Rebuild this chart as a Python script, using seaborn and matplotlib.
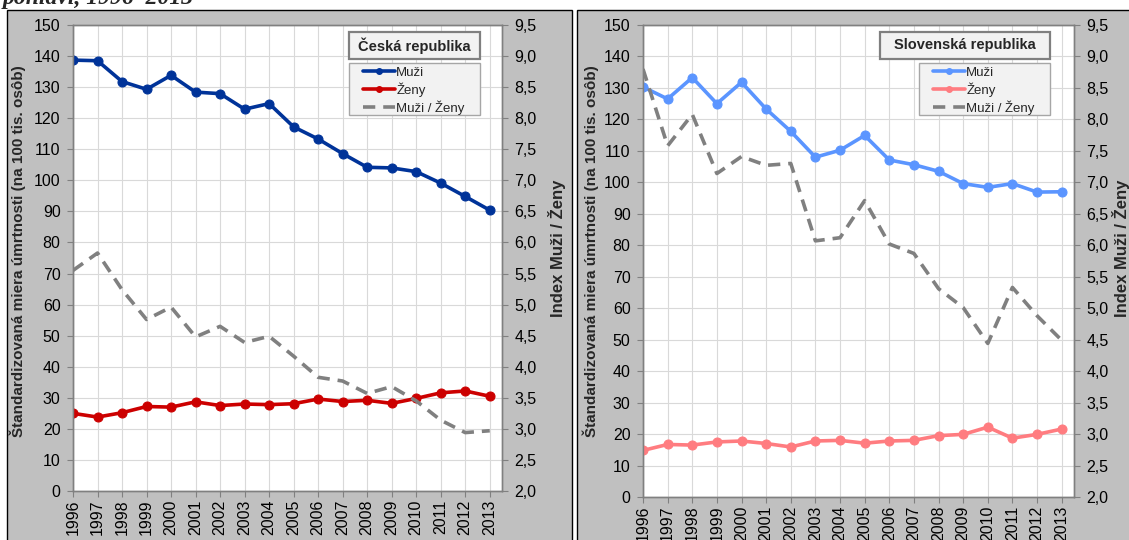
import matplotlib
matplotlib.use("Agg")
import matplotlib.pyplot as plt
import pandas as pd
import seaborn as sns
from matplotlib.lines import Line2D
from matplotlib.patches import Rectangle
from matplotlib.ticker import MultipleLocator, FuncFormatter

# --- data ---------------------------------------------------------------
years = list(range(1996, 2014))

cz_muzi = [138.7, 138.5, 131.8, 129.3, 133.8, 128.4, 127.9, 122.9, 124.7,
           117.2, 113.3, 108.6, 104.2, 104.0, 102.8, 99.1, 94.8, 90.4]
cz_zeny = [25.0, 23.8, 25.2, 27.2, 27.0, 28.7, 27.5, 28.0, 27.8,
           28.1, 29.6, 28.8, 29.2, 28.2, 29.8, 31.6, 32.2, 30.5]
cz_index = [5.55, 5.83, 5.24, 4.76, 4.96, 4.48, 4.65, 4.39, 4.49,
            4.17, 3.83, 3.77, 3.57, 3.68, 3.45, 3.14, 2.94, 2.97]

sk_muzi = [130.3, 126.5, 133.3, 125.0, 131.8, 123.3, 116.2, 108.0, 110.2,
           114.9, 107.1, 105.6, 103.5, 99.6, 98.4, 99.6, 96.9, 97.0]
sk_zeny = [14.8, 16.7, 16.5, 17.5, 17.8, 17.0, 15.9, 17.8, 18.0,
           17.1, 17.8, 18.0, 19.5, 19.9, 22.2, 18.7, 19.9, 21.6]
sk_index = [8.80, 7.58, 8.08, 7.14, 7.41, 7.27, 7.30, 6.07, 6.12,
            6.71, 6.02, 5.87, 5.31, 5.01, 4.44, 5.33, 4.88, 4.49]

series_labels = ["Muži", "Ženy", "Muži / Ženy"]
y_label = "Štandardizovaná miera úmrtnosti (na 100 tis. osôb)"
y2_label = "Index Muži / Ženy"
page_title = "pohlaví, 1996–2013"

# --- style --------------------------------------------------------------
sns.set_theme(style="white")
plt.rcParams["font.family"] = ["Liberation Sans", "DejaVu Sans"]

W, H = 1129, 540
fig = plt.figure(figsize=(W / 100, H / 100), dpi=100)
fig.patch.set_facecolor("white")

PANEL_BG = "#c0c0c0"
AX_EDGE = "#808080"
GRID = "#d9d9d9"
LW = 2.6
DASH = [3.4, 2.2]
TICK_FS = 11.5


def fbox(x0, y0, x1, y1):
    """Pixel box (top-left origin) -> figure fraction rect."""
    return [x0 / W, 1 - y1 / H, (x1 - x0) / W, (y1 - y0) / H]


def panel(box, plot, muzi, zeny, index, c_m, c_z, title, tbox, lbox, ylab_x, idx_x):
    x0, y0, x1, y1 = box
    fig.add_artist(Rectangle((x0 / W, -0.05), (x1 - x0) / W, 1 - y0 / H + 0.05,
                             transform=fig.transFigure, facecolor=PANEL_BG,
                             edgecolor="black", lw=1.0, zorder=-1))

    ax = fig.add_axes(fbox(*plot))
    ax.set_facecolor("white")
    df = pd.DataFrame({"rok": years, "Muži": muzi, "Ženy": zeny})
    sns.lineplot(data=df, x="rok", y="Muži", ax=ax, color=c_m, lw=LW,
                 marker="o", ms=6.5, mec=c_m, mfc=c_m, zorder=3)
    sns.lineplot(data=df, x="rok", y="Ženy", ax=ax, color=c_z, lw=LW,
                 marker="o", ms=6.5, mec=c_z, mfc=c_z, zorder=3)
    ax.set_xlim(1996, 2013.5)
    ax.set_ylim(0, 150)
    ax.set_xticks(years)
    ax.set_xticklabels([str(y) for y in years], rotation=90)
    ax.yaxis.set_major_locator(MultipleLocator(10))
    ax.grid(True, color=GRID, lw=0.8)
    ax.set_axisbelow(True)
    ax.set_xlabel("")
    ax.set_ylabel("")
    for s in ax.spines.values():
        s.set_color(AX_EDGE)
        s.set_linewidth(1.0)
    ax.tick_params(axis="y", direction="out", length=4, width=0.8, color=AX_EDGE,
                   labelsize=TICK_FS, pad=5, labelcolor="black", left=True)
    ax.tick_params(axis="x", direction="out", length=4, width=0.8, color=AX_EDGE,
                   labelsize=TICK_FS, pad=2, labelcolor="black", bottom=True)

    ax2 = ax.twinx()
    sns.lineplot(x=years, y=index, ax=ax2, color="#808080", lw=LW,
                 linestyle="--", zorder=3)
    for ln in ax2.get_lines():
        ln.set_dashes(DASH)
    ax2.set_ylim(2.0, 9.5)
    ax2.yaxis.set_major_locator(MultipleLocator(0.5))
    ax2.yaxis.set_major_formatter(FuncFormatter(lambda v, p: f"{v:.1f}".replace(".", ",")))
    ax2.set_ylabel("")
    ax2.grid(False)
    for s in ax2.spines.values():
        s.set_color(AX_EDGE)
        s.set_linewidth(1.0)
    ax2.tick_params(axis="y", direction="out", length=4, width=0.8, color=AX_EDGE,
                    labelsize=TICK_FS, pad=5, labelcolor="black", right=True)

    # legend: frame drawn as a patch so the entries can sit with a left inset
    handles = [
        Line2D([0], [0], color=c_m, lw=LW, marker="o", ms=4),
        Line2D([0], [0], color=c_z, lw=LW, marker="o", ms=4),
        Line2D([0], [0], color="#808080", lw=LW, dashes=DASH),
    ]
    lx0, ly0, lx1, ly1 = lbox
    ax2.add_patch(Rectangle((lx0 / W, 1 - ly1 / H), (lx1 - lx0) / W, (ly1 - ly0) / H,
                            transform=fig.transFigure, facecolor="#f2f2f2",
                            edgecolor="#a6a6a6", lw=1.0, zorder=4.5, clip_on=False))
    leg = ax2.legend(handles, series_labels, loc="upper left",
                     bbox_to_anchor=((lx0 + 11) / W, 1 - ly0 / H),
                     bbox_transform=fig.transFigure, borderaxespad=0,
                     fontsize=9.5, frameon=False, handlelength=2.4,
                     handletextpad=0.1, labelspacing=0.28, borderpad=0.25)
    leg.set_zorder(5)

    # title box
    tx0, ty0, tx1, ty1 = tbox
    fig.add_artist(Rectangle((tx0 / W, 1 - ty1 / H), (tx1 - tx0) / W, (ty1 - ty0) / H,
                             transform=fig.transFigure, facecolor="#f2f2f2",
                             edgecolor="#7f7f7f", lw=1.6, zorder=5))
    fig.text((tx0 + tx1) / 2 / W, 1 - (ty0 + ty1) / 2 / H, title, ha="center",
             va="center", fontsize=10.5, fontweight="bold", zorder=6)

    fig.text(ylab_x / W, 1 - 251 / H, y_label, rotation=90, ha="center", va="center",
             fontsize=11, fontweight="bold")
    fig.text(idx_x / W, 1 - 248 / H, y2_label, rotation=90, ha="center", va="center",
             fontsize=12, fontweight="bold")


panel((7, 10, 572, 540), (73, 25, 502, 491), cz_muzi, cz_zeny, cz_index,
      "#003399", "#cc0000", "Česká republika",
      (349, 32, 480, 59), (349, 63, 480, 115), 18, 557)
panel((577, 10, 1135, 540), (643, 25, 1074, 497), sk_muzi, sk_zeny, sk_index,
      "#5b95ff", "#ff7c80", "Slovenská republika",
      (880, 32, 1050, 59), (919, 63, 1050, 115), 591, 1121)

fig.text(3 / W, 1 - 4 / H, page_title, fontsize=17, fontweight="bold",
         fontstyle="italic", family="Liberation Serif", va="baseline", ha="left")

fig.savefig("out.png", dpi=100, facecolor="white")
